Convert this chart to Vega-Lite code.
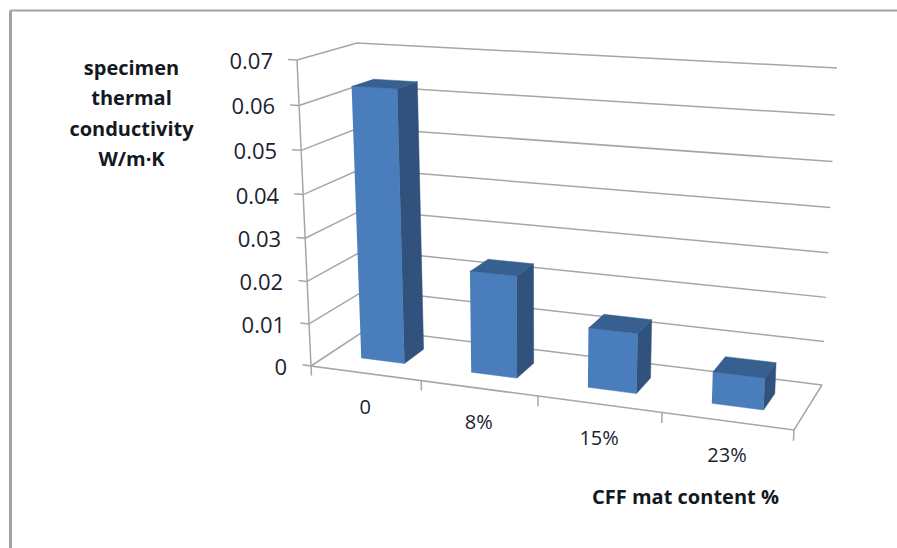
{
  "$schema": "https://vega.github.io/schema/vega-lite/v6.json",
  "width": 887,
  "height": 538,
  "padding": {"left": 10, "top": 10, "right": 0, "bottom": 0},
  "autosize": {"type": "none"},
  "background": "white",
  "view": {"stroke": null},
  "data": {
    "values": [
      {"part": "bar", "content": "0", "slot": 0, "value": 0.0633},
      {"part": "bar", "content": "8%", "slot": 1, "value": 0.0235},
      {"part": "bar", "content": "15%", "slot": 2, "value": 0.0135},
      {"part": "bar", "content": "23%", "slot": 3, "value": 0.007},
      {"part": "grid", "value": 0},
      {"part": "grid", "value": 0.01},
      {"part": "grid", "value": 0.02},
      {"part": "grid", "value": 0.03},
      {"part": "grid", "value": 0.04},
      {"part": "grid", "value": 0.05},
      {"part": "grid", "value": 0.06},
      {"part": "grid", "value": 0.07},
      {"part": "axis"},
      {"part": "xtick", "slot": 0},
      {"part": "xtick", "slot": 1},
      {"part": "xtick", "slot": 2},
      {"part": "xtick", "slot": 3},
      {"part": "xtick", "slot": 4}
    ]
  },
  "transform": [
    {
      "calculate": "datum.part=='bar' ? [{face:'front',k:0,u:datum.slot+0.3,d:0.33,v:0},{face:'front',k:1,u:datum.slot+0.7,d:0.33,v:0},{face:'front',k:2,u:datum.slot+0.7,d:0.33,v:datum.value},{face:'front',k:3,u:datum.slot+0.3,d:0.33,v:datum.value},{face:'side',k:0,u:datum.slot+0.7,d:0.33,v:0},{face:'side',k:1,u:datum.slot+0.7,d:0.7,v:0},{face:'side',k:2,u:datum.slot+0.7,d:0.7,v:datum.value},{face:'side',k:3,u:datum.slot+0.7,d:0.33,v:datum.value},{face:'top',k:0,u:datum.slot+0.3,d:0.33,v:datum.value},{face:'top',k:1,u:datum.slot+0.7,d:0.33,v:datum.value},{face:'top',k:2,u:datum.slot+0.7,d:0.7,v:datum.value},{face:'top',k:3,u:datum.slot+0.3,d:0.7,v:datum.value},{face:'xlabel',k:0,u:datum.slot+0.5,d:0,v:0}] : datum.part=='grid' ? [{face:'line',key:'g'+datum.value,k:0,u:0,d:0,v:datum.value},{face:'line',key:'g'+datum.value,k:1,u:0,d:1,v:datum.value},{face:'line',key:'g'+datum.value,k:2,u:4,d:1,v:datum.value},{face:'line',key:'t'+datum.value,k:0,u:-0.08,d:0,v:datum.value},{face:'line',key:'t'+datum.value,k:1,u:0,d:0,v:datum.value},{face:'ylabel',k:0,u:0,d:0,v:datum.value}] : datum.part=='axis' ? [{face:'line',key:'axis',k:0,u:0,d:0,v:0.07},{face:'line',key:'axis',k:1,u:0,d:0,v:0},{face:'line',key:'axis',k:2,u:4,d:0,v:0},{face:'line',key:'axis',k:3,u:4,d:1,v:0}] : [{face:'line',key:'x'+datum.slot,k:0,u:datum.slot,d:0,v:0},{face:'line',key:'x'+datum.slot,k:1,u:datum.slot,d:0,v:-0.0023}]",
      "as": "vertex"
    },
    {"flatten": ["vertex"]},
    {"calculate": "datum.vertex.face", "as": "face"},
    {"calculate": "datum.vertex.key", "as": "key"},
    {"calculate": "datum.vertex.k", "as": "k"},
    {"calculate": "datum.vertex.d", "as": "d"},
    {"calculate": "0.2217*datum.vertex.u/(1-0.0283*datum.vertex.u)", "as": "U"},
    {"calculate": "0.955*(datum.vertex.v/0.07)/(1-0.045*datum.vertex.v/0.07)", "as": "V"},
    {"calculate": "(1-datum.d)*(311+483*datum.U)+datum.d*(367+455*datum.U)", "as": "floorX"},
    {"calculate": "(1-datum.d)*(366+64*datum.U)+datum.d*(329+56*datum.U)", "as": "floorY"},
    {"calculate": "(1-datum.d)*(297+514*datum.U)+datum.d*(357+480*datum.U)", "as": "ceilX"},
    {"calculate": "(1-datum.d)*(60+25*datum.U)+datum.d*(43+25*datum.U)", "as": "ceilY"},
    {"calculate": "datum.floorX+(datum.ceilX-datum.floorX)*datum.V", "as": "sx"},
    {"calculate": "datum.floorY+(datum.ceilY-datum.floorY)*datum.V", "as": "sy"}
  ],
  "encoding": {
    "x": {
      "field": "sx",
      "type": "quantitative",
      "scale": {"domain": [10, 897], "nice": false, "zero": false},
      "axis": {
        "orient": "top",
        "ticks": false,
        "labels": false,
        "grid": false,
        "domainColor": "#a3a3a3",
        "domainWidth": 2,
        "title": "CFF mat content %",
        "titleFont": "Open Sans",
        "titleFontSize": 20,
        "titleFontWeight": "bold",
        "titleColor": "#14181f",
        "titleX": 675,
        "titleY": 487,
        "titleAlign": "center",
        "titleBaseline": "middle"
      }
    },
    "y": {
      "field": "sy",
      "type": "quantitative",
      "scale": {"domain": [548, 10], "nice": false, "zero": false},
      "axis": {
        "orient": "left",
        "ticks": false,
        "labels": false,
        "grid": false,
        "domainColor": "#a3a3a3",
        "domainWidth": 3,
        "title": ["specimen", "thermal", "conductivity", "W/m·K"],
        "titleFont": "Open Sans",
        "titleFontSize": 20,
        "titleFontWeight": "bold",
        "titleColor": "#14181f",
        "titleAngle": 0,
        "titleX": 121,
        "titleY": 58,
        "titleAlign": "center",
        "titleBaseline": "middle",
        "titleLineHeight": 30.5
      }
    }
  },
  "layer": [
    {
      "transform": [{"filter": "datum.face=='line'"}],
      "mark": {"type": "line", "stroke": "#a6a6a6", "strokeWidth": 1.5, "clip": false},
      "encoding": {
        "detail": {"field": "key"},
        "order": {"field": "k", "type": "quantitative"}
      }
    },
    {
      "transform": [{"filter": "datum.face=='front'"}],
      "mark": {"type": "line", "fill": "#4a7dbb", "stroke": "#4a7dbb", "strokeWidth": 0.5},
      "encoding": {
        "detail": {"field": "content"},
        "order": {"field": "k", "type": "quantitative"}
      }
    },
    {
      "transform": [{"filter": "datum.face=='side'"}],
      "mark": {"type": "line", "fill": "#30527c", "stroke": "#30527c", "strokeWidth": 0.5},
      "encoding": {
        "detail": {"field": "content"},
        "order": {"field": "k", "type": "quantitative"}
      }
    },
    {
      "transform": [{"filter": "datum.face=='top'"}],
      "mark": {"type": "line", "fill": "#375f90", "stroke": "#375f90", "strokeWidth": 0.5},
      "encoding": {
        "detail": {"field": "content"},
        "order": {"field": "k", "type": "quantitative"}
      }
    },
    {
      "transform": [{"filter": "datum.face=='ylabel'"}],
      "mark": {"type": "text", "align": "right", "baseline": "middle", "dx": -24, "dy": 2, "font": "Open Sans", "fontSize": 22, "color": "#1b2230"},
      "encoding": {
        "text": {"field": "value", "type": "quantitative", "format": ".2~f"}
      }
    },
    {
      "transform": [{"filter": "datum.face=='xlabel'"}],
      "mark": {"type": "text", "align": "center", "baseline": "middle", "dy": 35, "font": "Open Sans", "fontSize": 20, "color": "#1b2230"},
      "encoding": {
        "text": {"field": "content", "type": "nominal"}
      }
    }
  ]
}
